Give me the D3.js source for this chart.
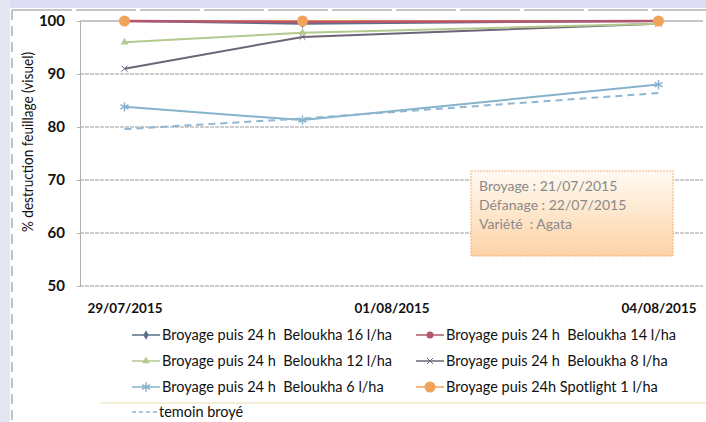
<!DOCTYPE html>
<html>
<head>
<meta charset="utf-8">
<script src="https://cdn.jsdelivr.net/npm/d3@7"></script>
<style>
  body { margin: 0; background: #fff; }
  svg { display: block; font-family: Lato, "Open Sans", sans-serif; }
</style>
</head>
<body>
<svg></svg>
<script>
// data
let dates = ['29/07/2015', '31/07/2015', '04/08/2015'];
let tickDates = ['29/07/2015', '01/08/2015', '04/08/2015'];
let yTicks = [50, 60, 70, 80, 90, 100];

let names = [
  'Broyage puis 24 h  Beloukha 16 l/ha',
  'Broyage puis 24 h  Beloukha 14 l/ha',
  'Broyage puis 24 h  Beloukha 12 l/ha',
  'Broyage puis 24 h  Beloukha 8 l/ha',
  'Broyage puis 24 h  Beloukha 6 l/ha',
  'Broyage puis 24h Spotlight 1 l/ha',
  'temoin broyé'
];
let beloukha16 = [100, 99.5, 100];
let beloukha14 = [100, 99.8, 100];
let beloukha12 = [96, 97.8, 99.5];
let beloukha8 = [91, 97, 99.5];
let beloukha6 = [83.8, 81.3, 88];
let spotlight1 = [100, 100, 100];
let temoin = [79.6, 81.6, 86.4];

let note = ['Broyage : 21/07/2015', 'Défanage : 22/07/2015', 'Variété  : Agata'];

// config
let config = { svg: {}, plot: {} };
config.svg.width = 706;
config.svg.height = 422;
config.plot.left = 80;
config.plot.right = 703;
config.plot.top = 21;
config.plot.bottom = 286;

let svg = d3.select('svg')
  .attr('width', config.svg.width)
  .attr('height', config.svg.height);

let parseDate = d3.timeParse('%d/%m/%Y');

let series = [
  { name: names[0], values: beloukha16, color: '#5b6f8c', width: 2, marker: 'diamond' },
  { name: names[1], values: beloukha14, color: '#b5566e', width: 2.5, marker: 'circle' },
  { name: names[2], values: beloukha12, color: '#b4c98e', width: 2, marker: 'triangle' },
  { name: names[3], values: beloukha8, color: '#6e6478', width: 2, marker: 'x' },
  { name: names[4], values: beloukha6, color: '#86b3cb', width: 2, marker: 'star' },
  { name: names[5], values: spotlight1, color: '#f2a35a', width: 2, marker: 'bigcircle' },
  { name: names[6], values: temoin, color: '#8fb6d0', width: 2, marker: 'none', dash: '7,5' }
];

// frame bits of the cropped screenshot
svg.append('rect').attr('x', 0).attr('y', 0).attr('width', 706).attr('height', 8).attr('fill', '#dcdcf2');
svg.append('rect').attr('x', 0).attr('y', 0).attr('width', 10).attr('height', 422).attr('fill', '#e4e6f4');
svg.append('line').attr('x1', 12).attr('x2', 706).attr('y1', 10).attr('y2', 10)
  .attr('stroke', '#8a8a8a').attr('stroke-width', 1).attr('stroke-dasharray', '60,4');
svg.append('line').attr('x1', 12).attr('x2', 12).attr('y1', 10).attr('y2', 422)
  .attr('stroke', '#9a9a9a').attr('stroke-width', 1.2).attr('stroke-dasharray', '10,6');
svg.append('line').attr('x1', 100).attr('x2', 706).attr('y1', 403).attr('y2', 403)
  .attr('stroke', '#f4efd8').attr('stroke-width', 2);

// scales
let x = d3.scaleTime()
  .domain([new Date(2015, 6, 28, 12), new Date(2015, 7, 4, 12)])
  .range([config.plot.left, config.plot.right]);
let y = d3.scaleLinear()
  .domain([50, 100])
  .range([config.plot.bottom, config.plot.top]);

// grid lines
svg.append('g')
  .selectAll('line')
  .data(yTicks)
  .enter()
  .append('line')
  .attr('x1', config.plot.left)
  .attr('x2', config.plot.right)
  .attr('y1', d => y(d))
  .attr('y2', d => y(d))
  .attr('stroke', d => d === 100 ? '#8c8c8c' : '#9a9a9a')
  .attr('stroke-width', 1.2)
  .attr('stroke-dasharray', d => d === 100 ? null : '4,1');

// y axis
let gy = svg.append('g').attr('transform', translate(config.plot.left, 0))
  .call(d3.axisLeft(y).tickValues(yTicks).tickSize(3).tickPadding(12));
gy.select('.domain').attr('stroke', '#b0b0b0');
gy.selectAll('.tick line').attr('stroke', '#b0b0b0');
gy.selectAll('.tick text')
  .attr('font-family', 'Lato, sans-serif')
  .attr('font-size', 15)
  .attr('font-weight', 'bold')
  .attr('fill', '#111');

// x axis
let gx = svg.append('g').attr('transform', translate(0, config.plot.bottom))
  .call(d3.axisBottom(x).tickValues(tickDates.map(parseDate)).tickSize(0).tickPadding(17)
    .tickFormat(d3.timeFormat('%d/%m/%Y')));
gx.select('.domain').remove();
gx.selectAll('.tick text')
  .attr('font-family', 'Lato, sans-serif')
  .attr('font-size', 13.5)
  .attr('font-weight', 'bold')
  .attr('fill', '#111');

// y title
svg.append('text')
  .attr('transform', 'translate(33,142) rotate(-90)')
  .attr('text-anchor', 'middle')
  .attr('font-size', 15)
  .attr('fill', '#111')
  .attr('textLength', 180)
  .attr('lengthAdjust', 'spacingAndGlyphs')
  .text('% destruction feuillage (visuel)');

// lines
let line = d3.line()
  .x(d => x(d.date))
  .y(d => y(d.value));

function points(s) {
  return s.values.map((v, j) => ({ date: parseDate(dates[j]), value: v }));
}

// draw back to front: lines first, the maroon one over the orange one, markers last
let order = [4, 6, 3, 2, 0, 5, 1];
order.forEach(function(i) {
  let s = series[i];
  svg.append('path')
    .datum(points(s))
    .attr('fill', 'none')
    .attr('stroke', s.color)
    .attr('stroke-width', s.width)
    .attr('stroke-dasharray', s.dash || null)
    .attr('d', line);
});
[4, 3, 2, 0, 1, 5].forEach(function(i) {
  let s = series[i];
  drawMarkers(svg.append('g'), points(s).map(p => [x(p.date), y(p.value)]), s);
});

function drawMarkers(g, pts, s) {
  pts.forEach(function(p) {
    if (s.marker === 'bigcircle') {
      g.append('circle').attr('cx', p[0]).attr('cy', p[1]).attr('r', 5.5).attr('fill', s.color);
    } else if (s.marker === 'circle') {
      g.append('circle').attr('cx', p[0]).attr('cy', p[1]).attr('r', 3.5).attr('fill', s.color);
    } else if (s.marker === 'diamond') {
      g.append('path').attr('transform', translate(p[0], p[1]))
        .attr('d', d3.symbol(d3.symbolDiamond, 25)).attr('fill', s.color);
    } else if (s.marker === 'triangle') {
      g.append('path').attr('transform', translate(p[0], p[1]))
        .attr('d', d3.symbol(d3.symbolTriangle, 25)).attr('fill', s.color);
    } else if (s.marker === 'x') {
      g.append('path').attr('transform', translate(p[0], p[1]))
        .attr('d', d3.symbol(d3.symbolTimes, 25)).attr('stroke', s.color).attr('fill', 'none');
    } else if (s.marker === 'star') {
      g.append('path').attr('transform', translate(p[0], p[1]))
        .attr('d', d3.symbol(d3.symbolAsterisk, 60)).attr('stroke', s.color).attr('stroke-width', 1.5).attr('fill', 'none');
    }
  });
}

// note box
let defs = svg.append('defs');
let grad = defs.append('linearGradient').attr('id', 'noteFill')
  .attr('x1', 0).attr('y1', 0).attr('x2', 0).attr('y2', 1);
grad.append('stop').attr('offset', '0%').attr('stop-color', '#fffaf2');
grad.append('stop').attr('offset', '100%').attr('stop-color', '#fcd3a6');
let note_g = svg.append('g').attr('transform', translate(471, 171));
note_g.append('rect')
  .attr('width', 202).attr('height', 85)
  .attr('fill', 'url(#noteFill)')
  .attr('stroke', '#f2b27c').attr('stroke-width', 1)
  .attr('stroke-dasharray', '2,1');
note_g.selectAll('text')
  .data(note)
  .enter()
  .append('text')
  .attr('x', 8)
  .attr('y', (d, i) => 20 + i * 19)
  .attr('font-size', 14)
  .attr('fill', '#8a8a8a')
  .attr('xml:space', 'preserve')
  .text(d => d);

// legend
let legendPos = [
  [132, 335], [416, 335],
  [132, 361], [416, 361],
  [132, 387], [416, 387],
  [132, 412]
];
let legend = svg.append('g');
series.forEach(function(s, i) {
  let lx = legendPos[i][0], ly = legendPos[i][1];
  let item = legend.append('g');
  item.append('line')
    .attr('x1', lx).attr('x2', lx + 28)
    .attr('y1', ly).attr('y2', ly)
    .attr('stroke', s.color)
    .attr('stroke-width', 2)
    .attr('stroke-dasharray', s.dash ? '4,3' : null)
    .attr('opacity', 0.75);
  drawMarkers(item, [[lx + 14, ly]], s);
  item.append('text')
    .attr('x', lx + (i === 6 ? 27 : 30))
    .attr('y', ly + 5)
    .attr('font-size', 14.5)
    .attr('fill', '#111')
    .attr('xml:space', 'preserve')
    .text(s.name);
});

function translate(x, y) {
  return 'translate(' + x + ',' + y + ')';
}
</script>
</body>
</html>
